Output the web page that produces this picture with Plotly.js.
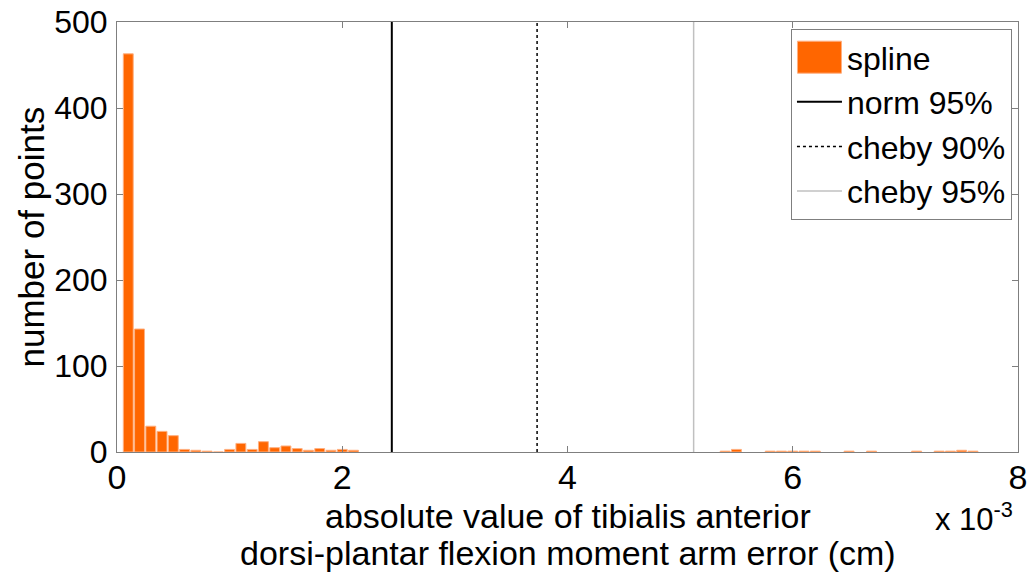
<!DOCTYPE html>
<html>
<head>
<meta charset="utf-8">
<script src="https://cdn.plot.ly/plotly-3.0.1.min.js"></script>
<style>
html,body{margin:0;padding:0;background:#fff;}
#chart{width:1034px;height:575px;}
</style>
</head>
<body>
<div id="chart"></div>
<script>
// Histogram bin centers (units of 1e-3 cm) and counts
var binCenters = [0.1,0.2,0.3,0.4,0.5,0.6,0.7,0.8,0.9,1.0,1.1,1.2,1.3,1.4,1.5,1.6,1.7,1.8,1.9,2.0,2.1,
                  5.4,5.5,5.8,5.9,6.0,6.1,6.2,6.5,6.7,7.1,7.3,7.4,7.5,7.6];
var counts     = [463,143,30,24,19,3,2,1,0,3,10,3,12,5,7,4,2,4,2,3,2,
                  1,3,1,1,1,1,1,1,1,1,1,1,2,1];
// Threshold lines (units of 1e-3 cm)
var thresholdNames = ['norm 95%','cheby 90%','cheby 95%'];
var thresholdX = [2.44, 3.73, 5.12];
var yRange = [0, 500];
var xTicks = [0,2,4,6,8];
var yTicks = [0,100,200,300,400,500];
var xTitleLines = ['absolute value of tibialis anterior', 'dorsi-plantar flexion moment arm error (cm)'];
var yTitle = 'number of points';
var xExponent = 'x 10<sup>-3</sup>';

var font = 'Liberation Sans, Arial, Helvetica, sans-serif';
var lineStyles = [
  {color:'#000000', width:2, dash:'solid'},
  {color:'#000000', width:1.5, dash:'dot'},
  {color:'#c0c0c0', width:1.5, dash:'solid'}
];

var traces = [{
  type:'bar', name:'spline', x:binCenters, y:counts, width:0.088,
  marker:{color:'#ff6600', line:{color:'#ffb080', width:1}}
}];
thresholdX.forEach(function(v,i){
  traces.push({type:'scatter', mode:'lines', name:thresholdNames[i],
    x:[v,v], y:yRange, line:lineStyles[i]});
});

var axisCommon = {
  showgrid:false, zeroline:false, showline:true, linecolor:'#7f7f7f', linewidth:1,
  mirror:'allticks', ticks:'inside', ticklen:6, tickcolor:'#7f7f7f'
};

var layout = {
  width:1034, height:575,
  margin:{l:117, r:16, t:22, b:123},
  paper_bgcolor:'#fff', plot_bgcolor:'#fff',
  font:{family:font, color:'#000'},
  bargap:0,
  xaxis:Object.assign({}, axisCommon, {
    range:[0,8], tickvals:xTicks, ticktext:xTicks.map(String), ticklabelstandoff:-5,
    tickfont:{family:font, size:34, color:'#000'}
  }),
  yaxis:Object.assign({}, axisCommon, {
    range:yRange, tickvals:yTicks, ticktext:yTicks.map(String), ticklabelstandoff:2,
    tickfont:{family:font, size:32, color:'#000'}
  }),
  legend:{x:0.9933, y:0.984, xanchor:'right', yanchor:'top',
    bgcolor:'#fff', bordercolor:'#7f7f7f', borderwidth:1,
    font:{family:font, size:32, color:'#000'}, itemwidth:45, tracegroupgap:0},
  showlegend:true,
  annotations:[
    {xref:'paper', yref:'paper', x:-0.096, y:0.5, xanchor:'center', yanchor:'middle', textangle:-90,
     text:yTitle, showarrow:false, font:{family:font, size:35, color:'#000'}},
    {xref:'paper', yref:'paper', x:0.5, y:-0.1488, xanchor:'center', yanchor:'middle',
     text:xTitleLines[0], showarrow:false, font:{family:font, size:34, color:'#000'}},
    {xref:'paper', yref:'paper', x:0.5, y:-0.2349, xanchor:'center', yanchor:'middle',
     text:xTitleLines[1], showarrow:false, font:{family:font, size:34, color:'#000'}},
    {xref:'paper', yref:'paper', x:0.9967, y:-0.10, xanchor:'right', yanchor:'top',
     text:xExponent, showarrow:false, font:{family:font, size:31, color:'#000'}}
  ]
};

function enlargeBarSwatch(gd){
  var pts = gd.querySelectorAll('.legend .legendpoints path');
  var lines = gd.querySelectorAll('.legend path.js-line');
  var cx = null;
  if (lines.length) { var bb = lines[0].getBBox(); cx = bb.x + bb.width/2; }
  pts.forEach(function(p){
    var fill = (p.style && p.style.fill) || p.getAttribute('fill') || '';
    if (fill.indexOf('255, 102, 0') >= 0 || fill.toLowerCase() === '#ff6600') {
      p.setAttribute('d','M-22,-16H22V16H-22Z');
      if (cx !== null) p.setAttribute('transform','translate(' + cx + ',0)');
    }
  });
}

Plotly.newPlot('chart', traces, layout, {displayModeBar:false, staticPlot:true}).then(function(gd){
  enlargeBarSwatch(gd);
  setTimeout(function(){ enlargeBarSwatch(gd); }, 0);
  setTimeout(function(){ enlargeBarSwatch(gd); }, 200);
});
</script>
</body>
</html>
